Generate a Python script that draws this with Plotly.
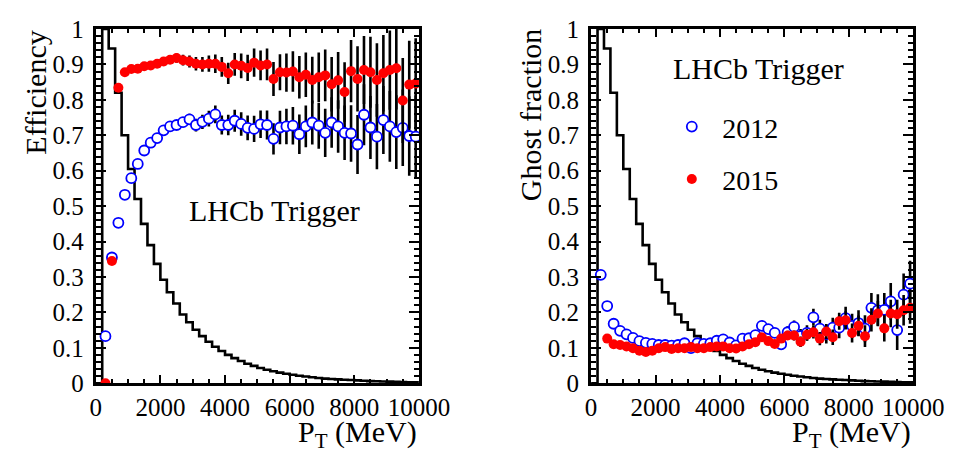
import plotly.graph_objects as go

# ---------------- data ----------------
pt = list(range(300, 10000, 200))  # bin centres (MeV)

eff_2012 = [0.133, 0.355, 0.453, 0.532, 0.579, 0.619, 0.657, 0.679, 0.692, 0.714,
            0.725, 0.729, 0.737, 0.745, 0.729, 0.738, 0.747, 0.759, 0.729, 0.729,
            0.741, 0.732, 0.721, 0.718, 0.731, 0.729, 0.690, 0.722, 0.725, 0.727,
            0.703, 0.725, 0.736, 0.727, 0.707, 0.736, 0.725, 0.707, 0.705, 0.674,
            0.758, 0.722, 0.696, 0.743, 0.725, 0.709, 0.721, 0.698, 0.696]
eff_2012_err = [0.005, 0.005, 0.005, 0.005, 0.005, 0.006, 0.007, 0.008, 0.009, 0.010,
                0.011, 0.013, 0.014, 0.016, 0.018, 0.020, 0.022, 0.025, 0.027, 0.029,
                0.031, 0.033, 0.035, 0.037, 0.039, 0.041, 0.044, 0.047, 0.050, 0.053,
                0.056, 0.059, 0.062, 0.065, 0.068, 0.071, 0.074, 0.077, 0.080, 0.083,
                0.086, 0.089, 0.092, 0.096, 0.100, 0.104, 0.108, 0.112, 0.116]

eff_2015 = [0.000, 0.345, 0.834, 0.878, 0.887, 0.888, 0.895, 0.897, 0.902, 0.908,
            0.913, 0.918, 0.912, 0.908, 0.902, 0.900, 0.902, 0.902, 0.893, 0.875,
            0.900, 0.896, 0.890, 0.905, 0.897, 0.900, 0.859, 0.878, 0.877, 0.880,
            0.864, 0.871, 0.856, 0.864, 0.869, 0.844, 0.855, 0.822, 0.881, 0.859,
            0.884, 0.878, 0.856, 0.875, 0.884, 0.889, 0.798, 0.843, 0.846]
eff_2015_err = [0.003, 0.006, 0.005, 0.005, 0.005, 0.005, 0.006, 0.007, 0.008, 0.009,
                0.011, 0.013, 0.015, 0.017, 0.019, 0.021, 0.023, 0.026, 0.028, 0.030,
                0.032, 0.035, 0.037, 0.040, 0.042, 0.045, 0.048, 0.051, 0.054, 0.057,
                0.060, 0.063, 0.066, 0.070, 0.073, 0.077, 0.080, 0.084, 0.088, 0.092,
                0.096, 0.100, 0.104, 0.108, 0.112, 0.116, 0.120, 0.124, 0.128]

ghost_2012 = [0.306, 0.218, 0.168, 0.148, 0.138, 0.128, 0.119, 0.114, 0.111, 0.108,
              0.108, 0.106, 0.108, 0.113, 0.099, 0.113, 0.111, 0.113, 0.120, 0.124,
              0.115, 0.107, 0.126, 0.127, 0.136, 0.162, 0.153, 0.142, 0.110, 0.144,
              0.159, 0.133, 0.142, 0.186, 0.154, 0.139, 0.157, 0.157, 0.184, 0.162,
              0.170, 0.154, 0.213, 0.206, 0.207, 0.231, 0.150, 0.250, 0.281]
ghost_2012_err = [0.006, 0.005, 0.004, 0.004, 0.004, 0.004, 0.004, 0.004, 0.004, 0.004,
                  0.004, 0.005, 0.005, 0.005, 0.005, 0.006, 0.006, 0.006, 0.007, 0.007,
                  0.008, 0.008, 0.009, 0.010, 0.011, 0.012, 0.013, 0.014, 0.016, 0.017,
                  0.018, 0.020, 0.022, 0.024, 0.025, 0.027, 0.028, 0.030, 0.032, 0.034,
                  0.036, 0.038, 0.042, 0.045, 0.048, 0.052, 0.056, 0.060, 0.065]

ghost_2015 = [None, 0.126, 0.110, 0.108, 0.104, 0.099, 0.092, 0.088, 0.092, 0.099,
              0.102, 0.097, 0.099, 0.099, 0.102, 0.099, 0.099, 0.102, 0.104, 0.104,
              0.099, 0.098, 0.104, 0.110, 0.116, 0.130, 0.119, 0.111, 0.126, 0.135,
              0.135, 0.117, 0.137, 0.144, 0.126, 0.146, 0.130, 0.175, 0.178, 0.142,
              0.162, 0.133, 0.179, 0.197, 0.155, 0.197, 0.195, 0.206, 0.213]
ghost_2015_err = [0.0, 0.004, 0.003, 0.003, 0.003, 0.003, 0.003, 0.003, 0.003, 0.003,
                  0.003, 0.003, 0.004, 0.004, 0.004, 0.004, 0.004, 0.005, 0.005, 0.005,
                  0.006, 0.006, 0.007, 0.007, 0.008, 0.009, 0.010, 0.011, 0.012, 0.013,
                  0.014, 0.015, 0.016, 0.018, 0.019, 0.021, 0.022, 0.024, 0.025, 0.027,
                  0.029, 0.031, 0.033, 0.035, 0.037, 0.039, 0.041, 0.043, 0.045]

# pT spectrum histogram (arbitrary normalisation), 200 MeV bins from 0 to 10000
hist_edges = list(range(0, 10001, 200))
hist_vals = [0.0, 1.0, 0.945, 0.82, 0.70, 0.605, 0.52, 0.45, 0.39, 0.337,
             0.292, 0.257, 0.225, 0.194, 0.172, 0.151, 0.133, 0.117, 0.103, 0.091,
             0.080, 0.071, 0.063, 0.055, 0.049, 0.043, 0.038, 0.034, 0.030, 0.027,
             0.024, 0.021, 0.019, 0.017, 0.015, 0.013, 0.012, 0.011, 0.010, 0.009,
             0.008, 0.007, 0.006, 0.0055, 0.005, 0.0045, 0.004, 0.0035, 0.003, 0.003]

x_ticks = [0, 2000, 4000, 6000, 8000, 10000]
x_tick_text = ["0", "2000", "4000", "6000", "8000", "10000"]
y_ticks = [0, 0.1, 0.2, 0.3, 0.4, 0.5, 0.6, 0.7, 0.8, 0.9, 1.0]
y_tick_text = ["0", "0.1", "0.2", "0.3", "0.4", "0.5", "0.6", "0.7", "0.8", "0.9", "1"]

# ---------------- figure ----------------
W, H = 969, 457
FONT = "Liberation Serif, Times New Roman, serif"
RED = "#ff0000"
BLUE = "#0000ff"

fig = go.Figure()

panels = [
    ("x", "y", eff_2012, eff_2012_err, eff_2015, eff_2015_err, False),
    ("x2", "y2", ghost_2012, ghost_2012_err, ghost_2015, ghost_2015_err, True),
]
for xa, ya, s12, e12, s15, e15, leg in panels:
    fig.add_trace(go.Scatter(
        x=hist_edges, y=hist_vals + [hist_vals[-1]], xaxis=xa, yaxis=ya,
        mode="lines", line=dict(color="black", width=2.6, shape="hv"),
        showlegend=False, hoverinfo="skip"))
    fig.add_trace(go.Scatter(
        x=pt, y=s12, xaxis=xa, yaxis=ya, mode="markers", name="2012",
        marker=dict(symbol="circle", size=10, color="white",
                    line=dict(color=BLUE, width=1.8)),
        error_y=dict(type="data", array=e12, color="black", thickness=2.6, width=0),
        showlegend=leg, legendgroup="a"))
    fig.add_trace(go.Scatter(
        x=pt, y=s15, xaxis=xa, yaxis=ya, mode="markers", name="2015",
        marker=dict(symbol="circle", size=10, color=RED, line=dict(width=0)),
        error_y=dict(type="data", array=e15, color="black", thickness=2.6, width=0),
        showlegend=leg, legendgroup="b"))

y0, y1 = (H - 385) / H, (H - 8.5) / H
common_x = dict(range=[0, 10000], tickvals=x_ticks, ticktext=x_tick_text,
                ticks="inside", ticklen=8, tickwidth=2.2, tickcolor="black",
                minor=dict(ticks="inside", dtick=500, ticklen=4, tickwidth=2.2, tickcolor="black"),
                showline=True, linewidth=3, linecolor="black", mirror="allticks",
                showgrid=False, zeroline=False, ticklabeloverflow="allow",
                tickfont=dict(family=FONT, size=25, color="black"))
common_y = dict(range=[0, 1], tickvals=y_ticks, ticktext=y_tick_text,
                ticks="inside", ticklen=10, tickwidth=2.2, tickcolor="black",
                minor=dict(ticks="inside", dtick=0.02, ticklen=5, tickwidth=2.2, tickcolor="black"),
                showline=True, linewidth=3, linecolor="black", mirror="allticks",
                showgrid=False, zeroline=False, ticklabeloverflow="allow",
                ticklabelstandoff=4,
                tickfont=dict(family=FONT, size=25, color="black"))

fig.update_layout(
    width=W, height=H,
    margin=dict(l=0, r=0, t=0, b=0),
    paper_bgcolor="white", plot_bgcolor="white",
    font=dict(family=FONT, color="black"),
    xaxis=dict(domain=[85 / W, 421 / W], anchor="y", **common_x),
    yaxis=dict(domain=[y0, y1], anchor="x", **common_y),
    xaxis2=dict(domain=[600 / W, 935 / W], anchor="y2", **common_x),
    yaxis2=dict(domain=[y0, y1], anchor="x2", **common_y),
    legend=dict(x=673 / W, y=(H - 86) / H, xanchor="left", yanchor="top",
                font=dict(family=FONT, size=28, color="black"),
                itemwidth=51,
                bgcolor="rgba(0,0,0,0)", tracegroupgap=13),
    showlegend=True,
)

ann = dict(showarrow=False, xref="paper", yref="paper",
           font=dict(family=FONT, size=30, color="black"))
fig.add_annotation(text="Efficiency", x=22 / W, y=(H - 8) / H, xanchor="center",
                   yanchor="top", textangle=-90, **ann)
fig.add_annotation(text="Ghost fraction", x=537 / W, y=(H - 6) / H, xanchor="center",
                   yanchor="top", textangle=-90, **ann)
fig.add_annotation(text="P<sub>T</sub> (MeV)", x=421 / W, y=(H - 439) / H,
                   xanchor="right", yanchor="middle", **ann)
fig.add_annotation(text="P<sub>T</sub> (MeV)", x=935 / W, y=(H - 439) / H,
                   xanchor="right", yanchor="middle", **ann)
fig.add_annotation(text="LHCb Trigger", x=180 / W, y=(H - 201) / H,
                   xanchor="left", yanchor="middle", **ann)
fig.add_annotation(text="LHCb Trigger", x=683 / W, y=(H - 50) / H,
                   xanchor="left", yanchor="middle", **ann)

fig.write_html("out.html")
